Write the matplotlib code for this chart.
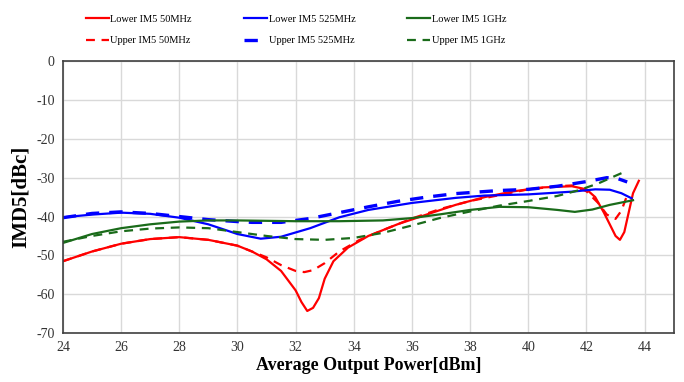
import matplotlib
matplotlib.use("Agg")
import matplotlib.pyplot as plt

plt.rcParams['font.family'] = ['Liberation Serif', 'DejaVu Serif']
plt.rcParams['axes.unicode_minus'] = False

# --- data ---
x_l50 = [24, 25, 26, 27, 28, 29, 30, 30.5, 31, 31.5, 32, 32.2, 32.4, 32.6, 32.8, 33.0, 33.3, 33.8, 34.5,
         35.5, 36.3, 37.5, 38.5, 39.5, 40.5, 41.5, 42.0, 42.3, 42.6, 42.8, 43.0, 43.15, 43.3, 43.45, 43.6, 43.8]
y_l50 = [-51.5, -49, -47, -45.8, -45.3, -46, -47.5, -49, -51, -54, -59, -62, -64.3, -63.5, -61, -56, -51.5, -48, -45,
         -42, -40, -37, -35, -33.5, -32.5, -32.2, -33, -35, -39, -42, -45, -46, -44, -39, -34, -30.8]

x_u50 = [24, 25, 26, 27, 28, 29, 30, 30.5, 31, 31.5, 32, 32.3, 32.6, 33.0, 33.5, 34.2, 35, 36, 37, 38, 39,
         40, 41, 41.5, 42.0, 42.4, 42.7, 43.0, 43.2, 43.4]
y_u50 = [-51.5, -49, -47, -45.8, -45.3, -46, -47.5, -49, -50.5, -52.5, -54, -54.3, -53.8, -52, -49, -46, -43.5, -40.5,
         -38, -36, -34.5, -33, -32.2, -32, -33.5, -36.5, -39.5, -40.6, -38.5, -34.5]

x_l525 = [24, 25, 26, 27, 28, 29, 30, 30.8, 31.5, 32.5, 33.5, 34.5, 36, 37.5, 38.5, 40, 41.5, 42.3, 42.8, 43.2, 43.55]
y_l525 = [-40.2, -39.5, -39, -39.3, -40.3, -42, -44.5, -45.7, -45.2, -43, -40.2, -38.3, -36.5, -35.2, -34.6, -34.3, -33.6, -33, -33.1, -34, -35.3]

x_u525 = [24, 25, 26, 27, 28, 29, 30, 30.5, 31.5, 32.5, 33.5, 34.5, 35.5, 36.5, 37.5, 39, 40, 41, 42, 42.7, 43.1, 43.4]
y_u525 = [-40.3, -39.2, -38.8, -39.2, -40, -40.8, -41.3, -41.5, -41.5, -40.5, -39, -37.5, -36.1, -35, -34.1, -33.3, -33, -32.2, -31, -30, -30.3, -31.1]

x_l1g = [24, 25, 26, 27, 28, 29, 30, 32, 33.5, 35, 36, 37, 38, 39, 40, 41, 41.6, 42.2, 42.8, 43.6]
y_l1g = [-46.8, -44.5, -43, -42, -41.3, -41, -41, -41.2, -41.2, -41, -40.4, -39.4, -38.3, -37.5, -37.6, -38.3, -38.8, -38.2, -37, -35.8]

x_u1g = [24, 25, 26, 27, 28, 29, 30, 31, 32, 33, 34, 35, 36, 37, 38, 39, 40, 41, 41.7, 42.4, 43.0, 43.4]
y_u1g = [-46.5, -45, -43.8, -43.1, -42.8, -43, -44, -45, -45.8, -46, -45.5, -44.2, -42.3, -40.3, -38.7, -37.2, -36, -34.7, -33.3, -31.5, -29.5, -28.2]

series = [
    ("Lower IM5 50MHz", x_l50, y_l50, "#ff0000", "-"),
    ("Upper IM5 50MHz", x_u50, y_u50, "#ff0000", "--"),
    ("Lower IM5 525MHz", x_l525, y_l525, "#0000ff", "-"),
    ("Upper IM5 525MHz", x_u525, y_u525, "#0000ff", "--"),
    ("Lower IM5 1GHz", x_l1g, y_l1g, "#1a6b1a", "-"),
    ("Upper IM5 1GHz", x_u1g, y_u1g, "#1a6b1a", "--"),
]

fig = plt.figure(figsize=(6.84, 3.82), dpi=100)
ax = fig.add_axes([0.092, 0.128, 0.893, 0.712])

for label, xs, ys, col, ls in series:
    lw = 2.4 if (ls == "--" and col == "#0000ff") else 1.6
    ax.plot(xs, ys, color=col, linestyle=ls, linewidth=lw, label=label,
            dashes=(4, 3) if ls == "--" else (None, None))

ax.set_xlim(24, 45)
ax.set_ylim(-70, 0)
ax.set_xticks(range(24, 45, 2))
ax.set_yticks(range(-70, 1, 10))
ax.grid(True, color="#d9d9d9", linewidth=1.0)
ax.set_axisbelow(True)
ax.tick_params(length=0, labelsize=10, pad=6, colors="#333333")
for s in ax.spines.values():
    s.set_color("#404040")
    s.set_linewidth(1.2)

ax.set_xlabel("Average Output Power[dBm]", fontsize=13, fontweight="bold", labelpad=2)
ax.set_ylabel("IMD5[dBc]", fontsize=15, fontweight="bold", labelpad=4)

fig.legend(loc="upper left", bbox_to_anchor=(0.112, 0.987), ncol=3, frameon=False,
           fontsize=7.5, handlelength=2.2, handletextpad=0.15, columnspacing=5.0,
           labelspacing=1.2)

fig.savefig("out.png", dpi=100)
